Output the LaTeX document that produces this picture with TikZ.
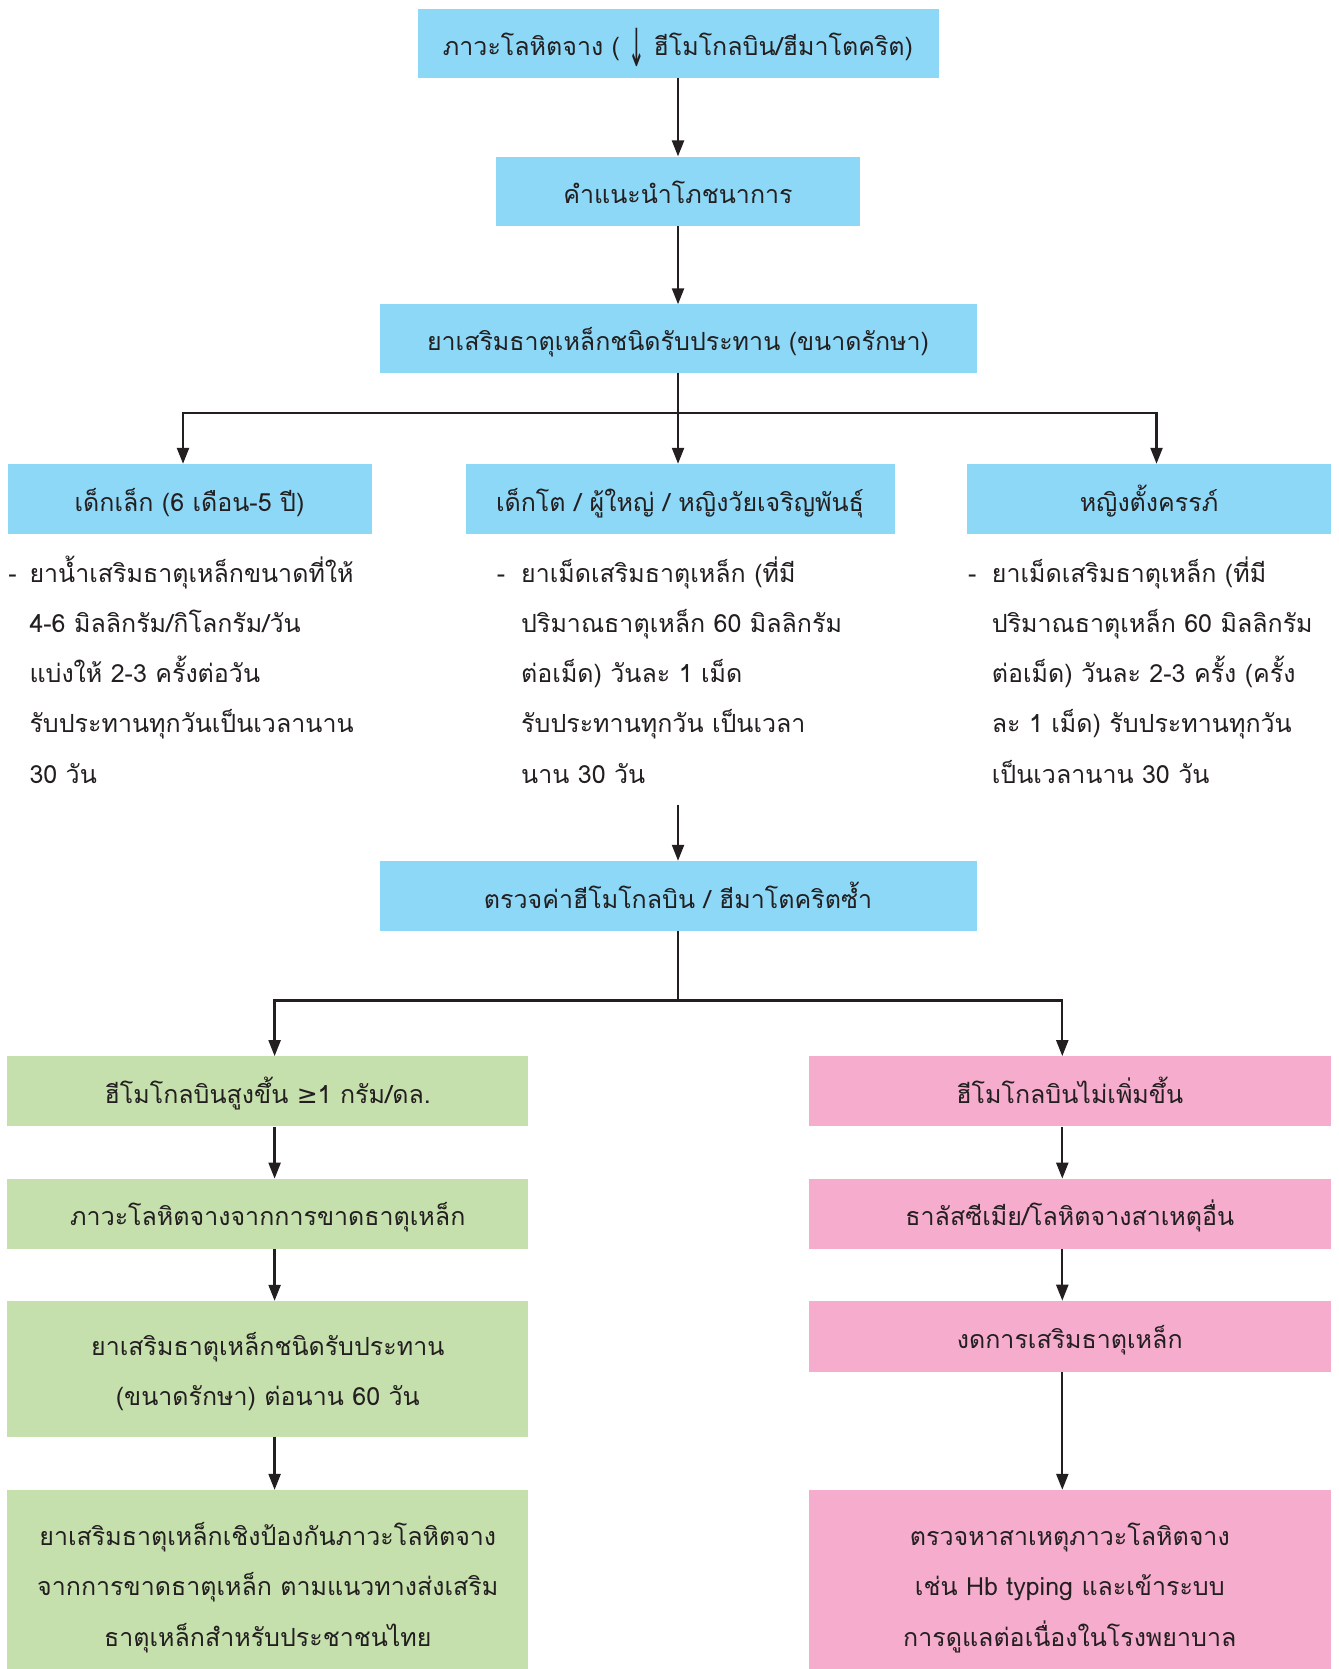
\documentclass[tikz,border=0pt]{standalone}
\usepackage{fontspec}
\usepackage{graphicx}
\setmainfont[Script=Thai]{Loma}
\newfontfamily\symfont{DejaVu Sans}
\usetikzlibrary{arrows.meta,calc}
\definecolor{bx}{HTML}{8ED8F7}
\definecolor{gr}{HTML}{C5E0AD}
\definecolor{pk}{HTML}{F5ACCD}
\definecolor{ink}{HTML}{231F20}
\newcommand\clines[1]{\vtop{\baselineskip=50.3pt\lineskiplimit=-\maxdimen\halign{\hfil##\hfil\cr#1\crcr}}}
\newcommand\llines[1]{\vtop{\baselineskip=50.3pt\lineskiplimit=-\maxdimen\halign{##\hfil\cr#1\crcr}}}
\begin{document}
\begin{tikzpicture}[x=1pt,y=-1pt,
  thfont/.style={font=\fontsize{25}{50.3}\selectfont},
  box/.style={rectangle, inner sep=0pt, text height=30pt, text depth=6pt, text=ink, thfont},
  bluebox/.style={box, fill=bx},
  greenbox/.style={box, fill=gr},
  pinkbox/.style={box, fill=pk},
  txt/.style={inner sep=0pt, text=ink, thfont},
  ln/.style={draw=ink, line width=2.3pt},
  arr/.style={ln, -{Triangle[length=16pt,width=12pt]}}]
\useasboundingbox (0,0) rectangle (1338,1669);
% top column
\node[bluebox, minimum width=521pt, minimum height=69pt] (b1) at (678,43.1)
  {ภาวะโลหิตจาง ( \raisebox{-11pt}{\scalebox{0.8}[2.1]{\symfont ↓}} ฮีโมโกลบิน/ฮีมาโตคริต)};
\node[bluebox, minimum width=364pt, minimum height=69pt] (b2) at (678,191.1) {คำแนะนำโภชนาการ};
\node[bluebox, minimum width=597pt, minimum height=68pt] (b3) at (678,338.5) {ยาเสริมธาตุเหล็กชนิดรับประทาน (ขนาดรักษา)};
% three groups
\node[bluebox, minimum width=364pt, minimum height=70pt] (b4a) at (189.5,499) {เด็กเล็ก (6 เดือน-5 ปี)};
\node[bluebox, minimum width=429pt, minimum height=70pt] (b4b) at (680,499) {เด็กโต / ผู้ใหญ่ / หญิงวัยเจริญพันธุ์};
\node[bluebox, minimum width=364pt, minimum height=70pt] (b4c) at (1149,499) {หญิงตั้งครรภ์};
% lists
\node[txt, anchor=base west] (da) at (8.3,582) {-};
\node[txt, anchor=base west] (la) at (29.3,582) {\llines{ยาน้ำเสริมธาตุเหล็กขนาดที่ให้\cr 4-6 มิลลิกรัม/กิโลกรัม/วัน\cr แบ่งให้ 2-3 ครั้งต่อวัน\cr รับประทานทุกวันเป็นเวลานาน\cr 30 วัน}};
\node[txt, anchor=base west] (db) at (496.7,582) {-};
\node[txt, anchor=base west] (lb) at (521,582) {\llines{ยาเม็ดเสริมธาตุเหล็ก (ที่มี\cr ปริมาณธาตุเหล็ก 60 มิลลิกรัม\cr ต่อเม็ด) วันละ 1 เม็ด\cr รับประทานทุกวัน เป็นเวลา\cr นาน 30 วัน}};
\node[txt, anchor=base west] (dc) at (968,582) {-};
\node[txt, anchor=base west] (lc) at (991.7,582) {\llines{ยาเม็ดเสริมธาตุเหล็ก (ที่มี\cr ปริมาณธาตุเหล็ก 60 มิลลิกรัม\cr ต่อเม็ด) วันละ 2-3 ครั้ง (ครั้ง\cr ละ 1 เม็ด) รับประทานทุกวัน\cr เป็นเวลานาน 30 วัน}};
% recheck
\node[bluebox, minimum width=597pt, minimum height=70pt] (b5) at (678,896) {ตรวจค่าฮีโมโกลบิน / ฮีมาโตคริตซ้ำ};
% green branch
\node[greenbox, minimum width=521pt, minimum height=70pt] (g1) at (267.8,1091.3) {ฮีโมโกลบินสูงขึ้น {\symfont ≥}1 กรัม/ดล.};
\node[greenbox, minimum width=521pt, minimum height=70pt] (g2) at (267.8,1213.8) {ภาวะโลหิตจางจากการขาดธาตุเหล็ก};
\node[greenbox, minimum width=521pt, minimum height=135.5pt] (g3) at (267.8,1368.8) {};
\node[txt, anchor=base] (g3t) at ($(g3.center)+(0,-13.8)$) {\clines{ยาเสริมธาตุเหล็กชนิดรับประทาน\cr (ขนาดรักษา) ต่อนาน 60 วัน}};
\node[greenbox, minimum width=521pt, minimum height=179pt] (g4) at (267.8,1579.5) {};
\node[txt, anchor=base] (g4t) at ($(g4.center)+(0,-34)$) {\clines{ยาเสริมธาตุเหล็กเชิงป้องกันภาวะโลหิตจาง\cr จากการขาดธาตุเหล็ก ตามแนวทางส่งเสริม\cr ธาตุเหล็กสำหรับประชาชนไทย}};
% pink branch
\node[pinkbox, minimum width=522pt, minimum height=70pt] (p1) at (1069.8,1091.3) {ฮีโมโกลบินไม่เพิ่มขึ้น};
\node[pinkbox, minimum width=522pt, minimum height=70pt] (p2) at (1069.8,1213.8) {ธาลัสซีเมีย/โลหิตจางสาเหตุอื่น};
\node[pinkbox, minimum width=522pt, minimum height=71pt] (p3) at (1069.8,1336.4) {งดการเสริมธาตุเหล็ก};
\node[pinkbox, minimum width=522pt, minimum height=179pt] (p4) at (1069.8,1579.5) {};
\node[txt, anchor=base] (p4t) at ($(p4.center)+(0,-34)$) {\clines{ตรวจหาสาเหตุภาวะโลหิตจาง\cr เช่น Hb typing และเข้าระบบ\cr การดูแลต่อเนื่องในโรงพยาบาล}};
% connector coordinates
\coordinate (jT) at (678,413);
\coordinate (lx) at (183,0);
\coordinate (rx) at (1156.5,0);
\coordinate (ls) at (678,804.7);
\coordinate (jB) at (678,1000.5);
\coordinate (gx) at (274.6,0);
\coordinate (px) at (1062.3,0);
% connectors
\draw[arr] (b1.south) -- (b2.north);
\draw[arr] (b2.south) -- (b3.north);
\draw[ln] (b3.south) -- (jT);
\draw[arr] (jT) -| (b4a.north -| lx);
\draw[arr] (jT) -| (b4c.north -| rx);
\draw[arr] (jT) -- (b4b.north -| jT);
\draw[arr] (ls) -- (b5.north);
\draw[ln] (b5.south) -- (jB);
\draw[arr] (jB) -| (g1.north -| gx);
\draw[arr] (jB) -| (p1.north -| px);
\draw[arr] (g1.south -| gx) -- (g2.north -| gx);
\draw[arr] (g2.south -| gx) -- (g3.north -| gx);
\draw[arr] (g3.south -| gx) -- (g4.north -| gx);
\draw[arr] (p1.south -| px) -- (p2.north -| px);
\draw[arr] (p2.south -| px) -- (p3.north -| px);
\draw[arr] (p3.south -| px) -- (p4.north -| px);
\end{tikzpicture}
\end{document}
